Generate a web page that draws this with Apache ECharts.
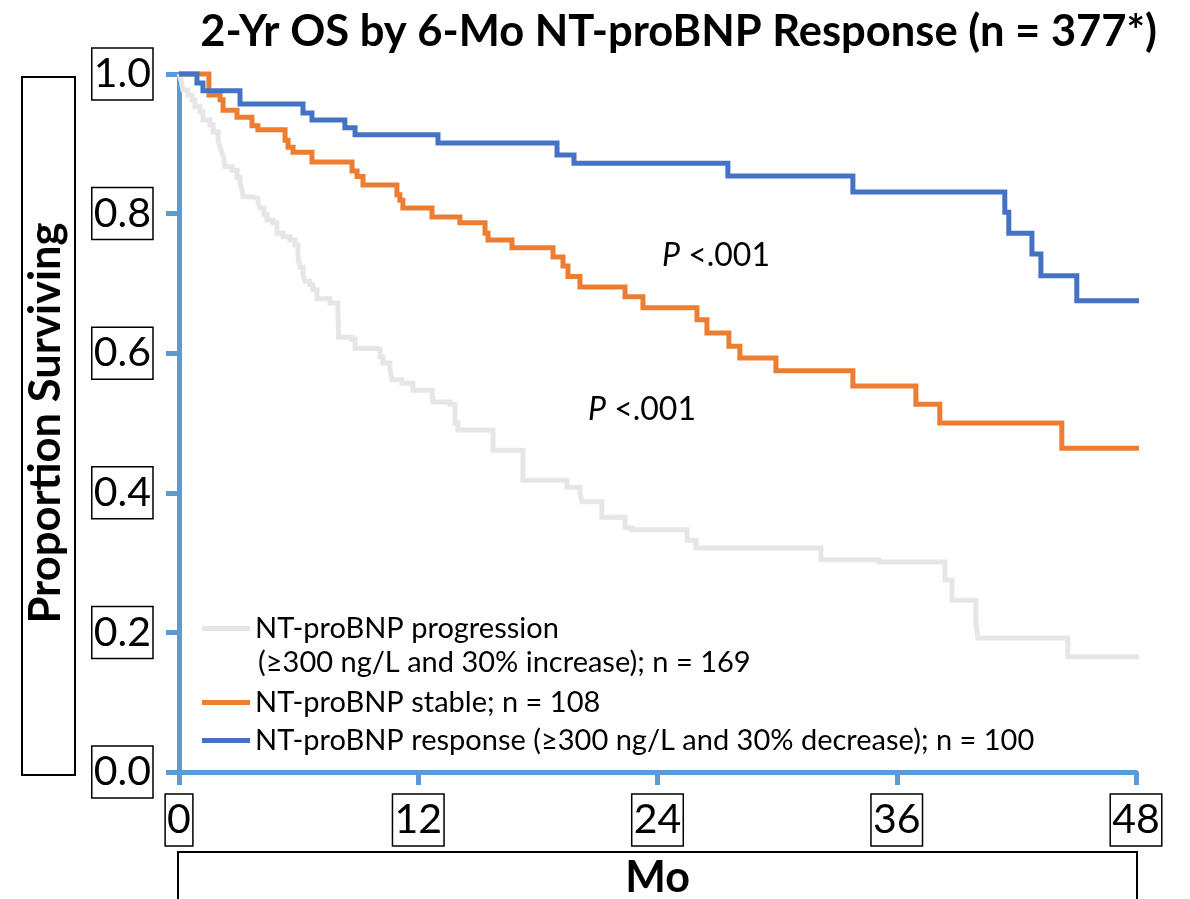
<!DOCTYPE html>
<html>
<head>
<meta charset="utf-8">
<script src="https://cdn.jsdelivr.net/npm/echarts@6/dist/echarts.min.js"></script>
<style>
  html, body { margin: 0; padding: 0; background: #ffffff; }
  #chart { width: 1190px; height: 899px; }
</style>
</head>
<body>
<div id="chart"></div>
<script>
// Kaplan–Meier estimates: month of each event and survival just after it
const progressionMonths = [0, 0.10, 0.20, 0.45, 0.65, 0.80, 1.05, 1.20, 1.55, 1.71, 1.96, 2.06, 2.16, 2.26, 2.31, 2.66, 2.91, 3.06, 3.16, 3.21, 3.66, 3.96, 4.06, 4.26, 4.41, 4.71, 4.91, 5.22, 5.57, 5.82, 5.97, 6.07, 6.22, 6.32, 6.57, 6.72, 6.92, 7.57, 7.97, 8.00, 8.68, 8.83, 9.93, 10.08, 10.23, 10.58, 10.68, 11.18, 11.74, 12.69, 12.74, 13.59, 13.84, 13.99, 15.75, 17.25, 19.46, 20.11, 20.21, 21.21, 22.37, 22.72, 25.48, 25.93, 32.20, 35.10, 38.42, 38.77, 39.97, 40.07, 44.58, 48.3];
const progressionSurv   = [1.000, 0.991, 0.977, 0.970, 0.963, 0.953, 0.946, 0.934, 0.927, 0.917, 0.905, 0.895, 0.887, 0.877, 0.867, 0.862, 0.852, 0.844, 0.834, 0.824, 0.822, 0.817, 0.808, 0.799, 0.791, 0.787, 0.772, 0.767, 0.762, 0.755, 0.738, 0.723, 0.712, 0.703, 0.698, 0.691, 0.678, 0.672, 0.665, 0.623, 0.620, 0.607, 0.605, 0.595, 0.586, 0.576, 0.562, 0.557, 0.547, 0.544, 0.530, 0.527, 0.500, 0.490, 0.461, 0.418, 0.408, 0.400, 0.387, 0.365, 0.350, 0.347, 0.332, 0.321, 0.304, 0.301, 0.275, 0.246, 0.213, 0.192, 0.165, 0.165];

const stableMonths = [0, 1.50, 2.06, 2.21, 2.91, 3.66, 3.96, 5.32, 5.47, 5.72, 6.67, 8.68, 8.93, 9.23, 10.93, 11.08, 11.23, 12.69, 14.09, 15.35, 15.50, 16.70, 18.76, 19.26, 19.51, 20.11, 22.37, 23.27, 25.98, 26.48, 27.58, 28.13, 29.94, 33.80, 36.96, 38.16, 44.28, 48.3];
const stableSurv   = [1.000, 0.970, 0.963, 0.948, 0.938, 0.926, 0.920, 0.905, 0.895, 0.888, 0.874, 0.861, 0.853, 0.841, 0.827, 0.819, 0.808, 0.795, 0.787, 0.772, 0.762, 0.751, 0.738, 0.725, 0.710, 0.695, 0.681, 0.665, 0.648, 0.629, 0.610, 0.593, 0.575, 0.553, 0.527, 0.500, 0.464, 0.464];

const responseMonths = [0, 0.90, 1.20, 3.06, 6.22, 6.67, 8.32, 8.83, 12.99, 18.96, 19.81, 27.53, 33.80, 41.42, 41.62, 42.78, 43.23, 45.03, 48.3];
const responseSurv   = [1.000, 0.987, 0.976, 0.957, 0.944, 0.934, 0.923, 0.913, 0.901, 0.884, 0.872, 0.854, 0.831, 0.802, 0.772, 0.742, 0.711, 0.675, 0.675];

// Legend labels; the first one wraps onto a second line
const seriesNames = [
  'NT-proBNP progression',
  'NT-proBNP stable; n = 108',
  'NT-proBNP response (≥300 ng/L and 30% decrease); n = 100'
];
const progressionDetail = '(≥300 ng/L and 30% increase); n = 169';
const seriesColors = ['#E6E6E6', '#ED7D31', '#4472C4'];
const xTicks = [0, 12, 24, 36, 48];
const yTicks = [0, 0.2, 0.4, 0.6, 0.8, 1.0];
const pLabel = '<.001';

const FONT = 'Lato, "Open Sans", sans-serif';
const AXIS_BLUE = '#5B9BD5';
const LEGEND_FONT = 29;

function zip(xs, ys) { return xs.map((x, i) => [x, ys[i]]); }

const chart = echarts.init(document.getElementById('chart'), null, { renderer: 'canvas' });

const tickBox = {
  color: '#000',
  fontFamily: FONT,
  fontSize: 41,
  lineHeight: 48,
  borderColor: '#000',
  borderWidth: 1.5,
  padding: [2, 2, 2, 2]
};

const series = [
  [progressionMonths, progressionSurv],
  [stableMonths, stableSurv],
  [responseMonths, responseSurv]
].map((pair, i) => ({
  name: seriesNames[i],
  type: 'line',
  step: 'end',
  data: zip(pair[0], pair[1]),
  symbol: 'none',
  clip: false,
  lineStyle: { color: seriesColors[i], width: 5, join: 'miter', cap: 'butt' },
  itemStyle: { color: seriesColors[i] },
  emphasis: { disabled: true },
  z: 3 + i
}));

const legendBase = {
  orient: 'vertical',
  left: 197,
  itemWidth: 48,
  itemHeight: 5,
  itemGap: 1,
  icon: 'rect',
  selectedMode: false,
  textStyle: { fontFamily: FONT, fontSize: LEGEND_FONT, lineHeight: 37, color: '#000' }
};

const pText = (left, top) => ({
  type: 'text',
  left: left,
  top: top,
  style: {
    text: '{i|P} ' + pLabel,
    fontFamily: FONT, fontSize: 32, fill: '#000',
    rich: { i: { fontStyle: 'italic', fontFamily: FONT, fontSize: 32 } }
  }
});

chart.setOption({
  animation: false,
  backgroundColor: '#ffffff',
  title: {
    text: '2-Yr OS by 6-Mo NT-proBNP Response (n = 377*)',
    right: 28,
    top: 5,
    textStyle: { fontFamily: FONT, fontWeight: 'bold', fontSize: 43.5, color: '#000' }
  },
  grid: { left: 179, right: 54, top: 74, bottom: 127, containLabel: false, outerBoundsMode: 'none' },
  xAxis: {
    type: 'value',
    min: xTicks[0],
    max: xTicks[xTicks.length - 1],
    interval: 12,
    name: 'Mo',
    nameLocation: 'middle',
    nameGap: 85,
    nameTextStyle: { fontFamily: FONT, fontWeight: 'bold', fontSize: 43, color: '#000' },
    axisLine: { lineStyle: { color: AXIS_BLUE, width: 5 } },
    axisTick: { show: true, inside: false, length: 13, lineStyle: { color: AXIS_BLUE, width: 5 } },
    axisLabel: Object.assign({ margin: 22 }, tickBox),
    splitLine: { show: false }
  },
  yAxis: {
    type: 'value',
    min: yTicks[0],
    max: yTicks[yTicks.length - 1],
    interval: 0.2,
    name: 'Proportion Surviving',
    nameLocation: 'middle',
    nameRotate: 90,
    nameGap: 111,
    nameTextStyle: { fontFamily: FONT, fontWeight: 'bold', fontSize: 43.5, color: '#000' },
    axisLine: { lineStyle: { color: AXIS_BLUE, width: 5 } },
    axisTick: { show: true, inside: false, length: 13, lineStyle: { color: AXIS_BLUE, width: 5 } },
    axisLabel: Object.assign({ margin: 26, formatter: v => v.toFixed(1) }, tickBox),
    splitLine: { show: false }
  },
  legend: [
    Object.assign({}, legendBase, {
      top: 605,
      data: [{ name: seriesNames[0], itemStyle: { color: seriesColors[0] } }]
    }),
    Object.assign({}, legendBase, {
      top: 679,
      data: [
        { name: seriesNames[1], itemStyle: { color: seriesColors[1] } },
        { name: seriesNames[2], itemStyle: { color: seriesColors[2] } }
      ]
    })
  ],
  graphic: [
    {
      type: 'rect',
      shape: { x: 22, y: 77, width: 53, height: 698 },
      style: { fill: 'none', stroke: '#000', lineWidth: 2 },
      z: 0
    },
    {
      type: 'rect',
      shape: { x: 178, y: 852, width: 959, height: 70 },
      style: { fill: 'none', stroke: '#000', lineWidth: 2 },
      z: 0
    },
    {
      type: 'text',
      left: 258,
      top: 644,
      style: {
        text: progressionDetail,
        fontFamily: FONT, fontSize: LEGEND_FONT, lineHeight: 37, fill: '#000'
      }
    },
    pText(662, 240),
    pText(588, 394)
  ],
  series: series
});
</script>
</body>
</html>
